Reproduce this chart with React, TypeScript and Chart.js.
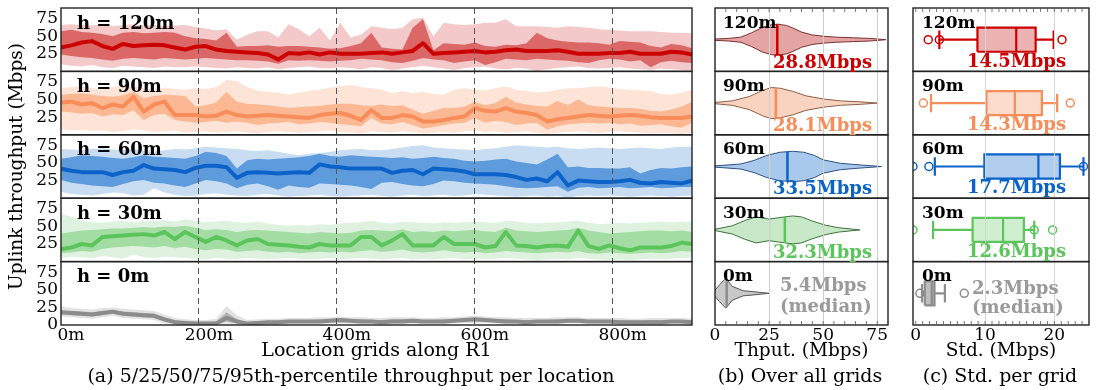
import React, { useEffect, useRef } from "react";
import { Chart, registerables } from "chart.js";

Chart.register(...registerables);

const FONT = "'DejaVu Serif', 'Liberation Serif', serif";

// ---------------- data ----------------
const heights = ["120m", "90m", "60m", "30m", "0m"];
const locations = [0, 15, 30, 45, 60, 75, 90, 105, 120, 135, 150, 165, 180, 195, 210, 225, 240, 255, 270, 285, 300, 315, 330, 345, 360, 375, 390, 405, 420, 435, 450, 465, 480, 495, 510, 525, 540, 555, 570, 585, 600, 615, 630, 645, 660, 675, 690, 705, 720, 735, 750, 765, 780, 795, 810, 825, 840, 855, 870, 885, 900, 915];
const locationTicks = [0, 200, 400, 600, 800];
const thputTicksRows = [25, 50, 75];
const thputTicksBottom = [0, 25, 50, 75];
const violinTicks = [0, 25, 50, 75];
const stdTicks = [0, 10, 20];

// h = 120m
const p05_h120 = [10, 8, 7, 9, 6, 5, 8, 7, 6, 5, 7, 6, 6, 7, 6, 5, 4, 6, 5, 4, 6, 3, 5, 6, 7, 5, 4, 6, 5, 3, 6, 5, 2, 4, 6, 8, 6, 4, 2, 5, 6, 7, 4, 3, 5, 4, 1, 3, 5, 6, 7, 5, 4, 5, 6, 4, 3, 2, 4, 3, 2, 1];
const p25_h120 = [24, 22, 20, 19, 17, 15, 18, 19, 18, 17, 19, 18, 17, 18, 19, 18, 17, 16, 16, 15, 14, 11, 16, 15, 16, 15, 14, 15, 16, 18, 17, 16, 13, 12, 15, 19, 17, 16, 12, 14, 16, 9, 13, 18, 17, 16, 18, 17, 16, 15, 13, 12, 16, 18, 17, 14, 16, 6, 13, 15, 13, 12];
const p50_h120 = [34, 37, 41, 43, 36, 32, 39, 36, 37, 38, 37, 34, 31, 35, 36, 31, 29, 28, 27, 26, 24, 17, 26, 25, 27, 24, 27, 25, 25, 25, 26, 27, 25, 27, 29, 40, 25, 26, 27, 28, 29, 27, 28, 30, 31, 29, 29, 29, 30, 28, 25, 25, 25, 26, 26, 28, 25, 25, 25, 28, 27, 24];
const p75_h120 = [57, 59, 56, 55, 53, 50, 55, 56, 54, 55, 56, 55, 50, 47, 46, 44, 55, 35, 36, 36, 37, 35, 36, 36, 35, 34, 32, 33, 36, 40, 55, 34, 32, 31, 62, 74, 30, 40, 39, 38, 41, 36, 35, 38, 37, 40, 55, 47, 44, 42, 41, 41, 40, 38, 43, 42, 41, 36, 34, 39, 37, 33];
const p95_h120 = [66, 67, 66, 65, 67, 64, 66, 67, 65, 66, 64, 65, 66, 63, 61, 58, 60, 45, 52, 57, 57, 48, 67, 60, 50, 62, 44, 69, 48, 52, 64, 62, 60, 62, 74, 76, 50, 69, 67, 66, 67, 69, 69, 74, 64, 64, 64, 63, 62, 64, 63, 62, 60, 59, 58, 57, 57, 57, 56, 55, 55, 54];

// h = 90m
const p05_h90 = [8, 6, 7, 5, 6, 4, 5, 8, 6, 4, 5, 6, 3, 4, 5, 3, 4, 5, 3, 2, 4, 5, 4, 3, 4, 5, 6, 4, 3, 2, 5, 4, 3, 5, 4, 2, 3, 4, 3, 5, 6, 4, 5, 3, 4, 5, 3, 1, 3, 4, 5, 4, 3, 4, 5, 4, 3, 2, 3, 2, 1, 3];
const p25_h90 = [33, 32, 30, 31, 26, 29, 28, 35, 21, 28, 30, 21, 19, 17, 18, 20, 17, 19, 17, 14, 16, 17, 18, 15, 16, 18, 17, 15, 14, 12, 24, 16, 15, 18, 14, 9, 11, 14, 16, 17, 24, 17, 20, 18, 14, 16, 17, 7, 12, 15, 16, 17, 16, 17, 15, 16, 13, 14, 15, 12, 10, 17];
const p50_h90 = [46, 47, 43, 45, 38, 43, 40, 54, 33, 43, 47, 28, 28, 28, 26, 27, 33, 28, 26, 27, 28, 27, 26, 25, 24, 28, 30, 31, 27, 21, 35, 24, 24, 28, 26, 19, 19, 21, 24, 26, 38, 34, 33, 38, 33, 31, 28, 19, 22, 24, 26, 28, 27, 26, 27, 28, 27, 25, 24, 24, 24, 26];
const p75_h90 = [57, 58, 59, 57, 55, 54, 56, 61, 52, 55, 57, 56, 55, 40, 42, 46, 61, 47, 44, 43, 42, 40, 38, 39, 40, 41, 43, 44, 44, 42, 41, 43, 41, 42, 36, 30, 34, 38, 38, 40, 47, 42, 45, 54, 46, 43, 41, 40, 48, 42, 50, 42, 40, 39, 38, 38, 37, 34, 33, 36, 40, 47];
const p95_h90 = [66, 68, 69, 66, 64, 68, 71, 69, 66, 64, 67, 65, 64, 66, 65, 68, 78, 76, 68, 63, 61, 60, 57, 60, 62, 64, 67, 69, 71, 68, 66, 64, 59, 62, 59, 61, 58, 57, 64, 66, 64, 63, 66, 69, 64, 62, 60, 61, 64, 66, 66, 68, 69, 67, 65, 64, 63, 62, 58, 57, 60, 64];

// h = 60m
const p05_h60 = [9, 6, 5, 4, 6, 8, 7, 4, 5, 14, 8, 5, 3, 4, 6, 7, 5, 4, 3, 5, 6, 4, 2, 3, 4, 5, 3, 2, 3, 4, 5, 3, 2, 4, 5, 3, 4, 5, 3, 4, 6, 5, 4, 3, 2, 3, 4, 2, 3, 1, 3, 4, 3, 4, 3, 2, 3, 4, 3, 2, 3, 4];
const p25_h60 = [26, 22, 20, 18, 17, 16, 20, 24, 26, 22, 21, 18, 16, 21, 26, 24, 21, 14, 19, 21, 17, 12, 18, 16, 15, 21, 20, 19, 18, 16, 13, 22, 23, 20, 18, 17, 20, 25, 24, 22, 21, 20, 19, 17, 15, 14, 15, 16, 17, 9, 15, 16, 14, 15, 16, 14, 15, 16, 14, 15, 16, 16];
const p50_h60 = [42, 39, 37, 37, 37, 33, 37, 39, 47, 42, 41, 40, 37, 43, 46, 46, 44, 29, 36, 37, 36, 35, 36, 37, 36, 48, 45, 44, 42, 42, 42, 42, 36, 39, 40, 34, 42, 41, 40, 38, 34, 34, 34, 33, 30, 26, 28, 24, 37, 18, 25, 24, 23, 23, 24, 26, 22, 21, 23, 22, 21, 25];
const p75_h60 = [56, 58, 61, 60, 59, 57, 56, 58, 61, 59, 58, 57, 56, 60, 66, 64, 60, 42, 54, 56, 55, 56, 57, 58, 60, 63, 60, 59, 61, 60, 59, 58, 57, 58, 56, 57, 59, 57, 56, 53, 52, 53, 55, 56, 52, 50, 48, 55, 63, 44, 45, 43, 43, 42, 42, 44, 35, 40, 43, 42, 44, 45];
const p95_h60 = [70, 69, 68, 70, 71, 69, 68, 70, 67, 66, 68, 70, 69, 71, 73, 72, 71, 70, 68, 67, 68, 66, 63, 61, 63, 64, 66, 68, 69, 70, 68, 68, 70, 72, 74, 75, 72, 71, 70, 69, 68, 70, 71, 73, 75, 74, 73, 72, 73, 71, 70, 71, 72, 71, 70, 71, 72, 71, 70, 72, 73, 73];

// h = 30m
const p05_h30 = [5, 7, 6, 5, 8, 6, 4, 10, 6, 5, 7, 6, 5, 4, 3, 5, 4, 3, 5, 4, 3, 4, 5, 4, 3, 4, 5, 3, 4, 5, 4, 3, 4, 5, 3, 4, 3, 4, 5, 3, 4, 3, 4, 5, 4, 3, 2, 3, 4, 3, 5, 4, 3, 2, 3, 2, 3, 4, 3, 4, 5, 4];
const p25_h30 = [12, 13, 15, 14, 18, 20, 21, 22, 21, 20, 22, 19, 21, 18, 16, 18, 17, 14, 15, 16, 14, 13, 14, 12, 13, 14, 13, 14, 13, 15, 16, 14, 15, 17, 14, 13, 14, 16, 14, 13, 14, 12, 13, 15, 14, 13, 12, 13, 14, 13, 15, 12, 11, 13, 12, 11, 12, 13, 12, 13, 15, 14];
const p50_h30 = [18, 20, 25, 23, 35, 36, 37, 38, 39, 37, 42, 32, 42, 35, 28, 35, 30, 23, 30, 32, 25, 24, 23, 21, 20, 25, 23, 23, 23, 35, 35, 23, 30, 39, 23, 23, 23, 35, 25, 25, 25, 20, 22, 42, 23, 22, 20, 22, 23, 21, 44, 22, 18, 23, 19, 16, 20, 20, 20, 22, 27, 25];
const p75_h30 = [40, 42, 44, 45, 46, 47, 47, 48, 49, 48, 50, 49, 51, 48, 45, 46, 45, 42, 44, 45, 44, 43, 42, 41, 40, 42, 41, 40, 41, 44, 45, 44, 43, 46, 42, 43, 42, 44, 43, 44, 45, 43, 42, 48, 44, 43, 42, 43, 44, 45, 48, 44, 42, 40, 41, 42, 43, 44, 44, 43, 44, 42];
const p95_h30 = [68, 64, 58, 56, 55, 57, 58, 56, 57, 58, 59, 57, 60, 58, 56, 57, 58, 56, 55, 57, 54, 52, 51, 52, 51, 53, 52, 54, 55, 56, 58, 55, 54, 57, 56, 55, 54, 56, 55, 56, 57, 56, 55, 58, 57, 55, 54, 55, 56, 57, 58, 55, 53, 54, 55, 54, 55, 56, 57, 56, 57, 56];

// h = 0m
const p05_h0 = [12, 11, 10, 9, 11, 13, 10, 9, 8, 7, 2, 0, 0, 0, 0, 0, 2, 0, 0, 0, 0, 0, 1, 1, 1, 1, 2, 2, 2, 1, 1, 0, 1, 1, 2, 1, 1, 1, 2, 3, 3, 3, 2, 1, 1, 0, 1, 1, 1, 2, 2, 1, 1, 1, 0, 0, 0, 0, 0, 1, 1, 0];
const p25_h0 = [15, 14, 13, 12, 14, 16, 13, 12, 11, 10, 5, 2, 1, 1, 0, 1, 5, 2, 1, 1, 2, 2, 3, 3, 3, 3, 4, 4, 4, 3, 3, 2, 3, 3, 4, 3, 3, 3, 4, 5, 5, 5, 4, 3, 3, 2, 3, 3, 3, 4, 4, 3, 3, 3, 2, 2, 2, 2, 2, 3, 3, 2];
const p50_h0 = [18, 17, 16, 15, 17, 19, 16, 15, 14, 13, 8, 4, 3, 2, 2, 2, 10, 5, 2, 3, 4, 4, 5, 5, 5, 5, 6, 7, 6, 5, 5, 4, 5, 5, 6, 5, 5, 5, 6, 7, 8, 7, 6, 5, 5, 4, 5, 5, 5, 6, 6, 5, 5, 5, 4, 4, 4, 4, 4, 5, 5, 4];
const p75_h0 = [21, 20, 19, 18, 20, 21, 19, 18, 17, 16, 11, 7, 5, 4, 4, 5, 18, 8, 4, 5, 6, 6, 7, 7, 7, 8, 8, 9, 8, 8, 7, 7, 8, 8, 8, 7, 7, 8, 8, 9, 10, 9, 8, 8, 7, 7, 7, 7, 8, 8, 8, 7, 7, 7, 7, 6, 6, 7, 7, 7, 7, 6];
const p95_h0 = [26, 24, 23, 22, 24, 25, 23, 22, 21, 20, 15, 10, 8, 7, 7, 9, 27, 14, 7, 8, 9, 9, 10, 10, 10, 11, 11, 12, 11, 11, 10, 10, 11, 11, 11, 10, 10, 11, 11, 12, 13, 12, 11, 11, 10, 10, 10, 10, 11, 11, 11, 10, 10, 10, 10, 9, 9, 10, 10, 10, 10, 9];

// (b) violin outlines: throughput value -> half width (fraction of half a row)
const violinX_h120 = [0, 6, 12, 17, 22, 26, 29, 33, 36, 40, 45, 50, 56, 64, 72, 79];
const violinW_h120 = [0.02, 0.04, 0.08, 0.22, 0.39, 0.47, 0.49, 0.45, 0.37, 0.24, 0.15, 0.11, 0.08, 0.06, 0.04, 0];
const violinX_h90 = [0, 8, 16, 22, 26, 30, 36, 42, 50, 58, 67, 75];
const violinW_h90 = [0.02, 0.07, 0.21, 0.4, 0.49, 0.47, 0.37, 0.23, 0.13, 0.07, 0.04, 0];
const violinX_h60 = [0, 12, 18, 24, 30, 36, 41, 46, 50, 58, 67, 77];
const violinW_h60 = [0.02, 0.08, 0.19, 0.35, 0.45, 0.48, 0.45, 0.35, 0.21, 0.1, 0.05, 0];
const violinX_h30 = [0, 8, 14, 19, 25, 30, 36, 40, 45, 51, 57, 67];
const violinW_h30 = [0.02, 0.13, 0.3, 0.41, 0.34, 0.39, 0.44, 0.41, 0.28, 0.15, 0.07, 0];
const violinX_h0 = [0, 2, 5, 8, 13, 18, 25];
const violinW_h0 = [0.1, 0.26, 0.47, 0.22, 0.08, 0.05, 0];
const thputMedian = [28.8, 28.1, 33.5, 32.3, 5.4];

// (c) std per grid box plots
const stdQ1 = [8.9, 10.2, 9.9, 8.2, 1.3];
const stdMedian = [14.5, 14.3, 17.7, 12.6, 2.3];
const stdQ3 = [17.3, 18.2, 20.8, 15.6, 2.7];
const stdWhiskerLow = [3.4, 2.2, 2.75, 2.5, 0.9];
const stdWhiskerHigh = [19.9, 20.4, 24.2, 17.1, 4.2];
const stdOutliers_h120 = [1.8, 3.4, 21.1];
const stdOutliers_h90 = [1.1, 22.3];
const stdOutliers_h60 = [-0.4, 1.9, 24.2];
const stdOutliers_h30 = [-0.4, 17.1, 19.75];
const stdOutliers_h0 = [0.6, 7.0];

// ---------------- styles ----------------
const lineColors = ["#CC0000", "#F98D5A", "#0B63C9", "#5BC55B", "#8C8C8C"];
const darkBand = ["#DC6767", "#FBB893", "#5E9BDC", "#A4DDA4", "#B4B4B4"];
const lightBand = ["#F3C9C9", "#FDE4D6", "#C9DDF2", "#DFF2DF", "#E2E2E2"];
const violinFill = ["#E5A4A4", "#F9D3BF", "#A9C9EC", "#C7E9C7", "#C8C8C8"];
const violinEdge = ["#7B3131", "#8E5E47", "#2F5283", "#3F723F", "#555555"];
const boxFill = ["#EDB3B3", "#FCDCCA", "#B2CEEE", "#D0EFD0", "#BEBEBE"];
const textColors = ["#CC0000", "#F98D5A", "#0B63C9", "#5BC55B", "#9A9A9A"];

const P05 = [p05_h120, p05_h90, p05_h60, p05_h30, p05_h0];
const P25 = [p25_h120, p25_h90, p25_h60, p25_h30, p25_h0];
const P50 = [p50_h120, p50_h90, p50_h60, p50_h30, p50_h0];
const P75 = [p75_h120, p75_h90, p75_h60, p75_h30, p75_h0];
const P95 = [p95_h120, p95_h90, p95_h60, p95_h30, p95_h0];
const VX = [violinX_h120, violinX_h90, violinX_h60, violinX_h30, violinX_h0];
const VW = [violinW_h120, violinW_h90, violinW_h60, violinW_h30, violinW_h0];
const OUT = [stdOutliers_h120, stdOutliers_h90, stdOutliers_h60, stdOutliers_h30, stdOutliers_h0];

const rowIds = ["r0", "r1", "r2", "r3", "r4"];

function pts(xs: number[], ys: number[]) {
  return xs.map((x, i) => ({ x, y: ys[i] }));
}
function widthAt(xs: number[], ws: number[], v: number) {
  for (let i = 1; i < xs.length; i++) {
    if (v <= xs[i]) {
      const t = (v - xs[i - 1]) / (xs[i] - xs[i - 1]);
      return ws[i - 1] + t * (ws[i] - ws[i - 1]);
    }
  }
  return 0;
}
function tickList(vals: number[]) {
  return (s: any) => {
    s.ticks = vals.map((v) => ({ value: v }));
  };
}
function fixX(s: any) {
  s.height = 38;
  s.paddingLeft = 0;
  s.paddingRight = 0;
}
function yScales(make: (r: number) => any) {
  const out: any = {};
  for (let r = 4; r >= 0; r--) {
    out["r" + r] = {
      type: "linear",
      position: "left",
      stack: "rows",
      stackWeight: 1,
      offset: false,
      grid: { display: false, drawTicks: false },
      border: { display: false },
      ...make(r),
    };
  }
  return out;
}
function drawFrames(chart: any) {
  const { ctx, chartArea: a } = chart;
  ctx.save();
  ctx.strokeStyle = "#222";
  ctx.lineWidth = 1.4;
  rowIds.forEach((id) => {
    const s = chart.scales[id];
    ctx.strokeRect(a.left, s.top, a.right - a.left, s.bottom - s.top);
  });
  ctx.restore();
}
function drawMinorTicks(chart: any, step: number, from: number, to: number) {
  const { ctx, chartArea: a } = chart;
  const xs = chart.scales.x;
  ctx.save();
  ctx.strokeStyle = "#555";
  ctx.lineWidth = 0.8;
  for (let v = from; v <= to + 1e-9; v += step) {
    const px = xs.getPixelForValue(v);
    if (px < a.left + 1 || px > a.right - 1) continue;
    ctx.beginPath();
    ctx.moveTo(px, a.top);
    ctx.lineTo(px, a.top + 4);
    ctx.moveTo(px, a.bottom);
    ctx.lineTo(px, a.bottom - 4);
    ctx.stroke();
  }
  ctx.restore();
}

const common = {
  type: "line",
  options: {
    responsive: false,
    maintainAspectRatio: false,
    animation: false,
    events: [],
    plugins: { legend: { display: false }, tooltip: { enabled: false } },
    elements: { point: { radius: 0, hoverRadius: 0 }, line: { tension: 0 } },
  },
};

const TITLE_FONT = { family: FONT, size: 18.5 };
const TICK_FONT = { family: FONT, size: 17 };

function configA() {
  const datasets: any[] = [];
  for (let r = 0; r < 5; r++) {
    const base = { yAxisID: rowIds[r], pointRadius: 0, borderColor: "rgba(0,0,0,0)", borderWidth: 0 };
    datasets.push({ ...base, data: pts(locations, P05[r]), fill: false, order: 3 });
    datasets.push({ ...base, data: pts(locations, P95[r]), fill: "-1", backgroundColor: lightBand[r], order: 3 });
    datasets.push({ ...base, data: pts(locations, P25[r]), fill: false, order: 2 });
    datasets.push({ ...base, data: pts(locations, P75[r]), fill: "-1", backgroundColor: darkBand[r], order: 2 });
    datasets.push({ ...base, data: pts(locations, P50[r]), fill: false, borderColor: lineColors[r], borderWidth: 4, borderJoinStyle: "round", order: 1 });
  }
  const overlay = {
    id: "overlayA",
    afterDraw(chart: any) {
      const { ctx, chartArea: a } = chart;
      drawFrames(chart);
      ctx.save();
      ctx.font = `bold 18px ${FONT}`;
      ctx.fillStyle = "#000";
      ctx.textAlign = "left";
      ctx.textBaseline = "alphabetic";
      rowIds.forEach((id, r) => {
        const s = chart.scales[id];
        ctx.fillText("h = " + heights[r], a.left + 16, s.top + 20.5);
      });
      ctx.restore();
    },
  };
  return {
    ...common,
    data: { datasets },
    plugins: [overlay],
    options: {
      ...common.options,
      layout: { padding: { left: 0, right: 8, top: 8, bottom: 27 } },
      scales: {
        x: {
          type: "linear",
          min: 0,
          max: 915,
          afterBuildTicks: tickList(locationTicks),
          afterFit: fixX,
          ticks: { callback: (v: any) => v + "m", font: TICK_FONT, color: "#000", labelOffset: 10, padding: 0, maxRotation: 0, autoSkip: false },
          grid: { z: 1, color: (c: any) => (c.tick && c.tick.value === 0 ? "rgba(0,0,0,0)" : "#555"), lineWidth: 1, drawTicks: false },
          border: { display: false, dash: [6, 4] },
          title: { display: true, text: "Location grids along R1", font: { family: FONT, size: 19 }, color: "#000", padding: { top: 0, bottom: 1 } },
        },
        ...yScales((r) => ({
          min: 0,
          max: 90,
          afterBuildTicks: tickList(r === 4 ? thputTicksBottom : thputTicksRows),
          afterFit: (s: any) => {
            s.width = 61;
            s.paddingTop = 0;
            s.paddingBottom = 0;
          },
          ticks: { font: TICK_FONT, color: "#000", padding: 3, autoSkip: false },
          title: { display: r === 2, text: "Uplink throughput (Mbps)", font: TITLE_FONT, color: "#000", padding: { top: 6, bottom: 0 } },
        })),
      },
    },
  };
}

function hiddenY(r: number) {
  return {
    min: -1,
    max: 1,
    ticks: { display: false },
    afterFit: (s: any) => {
      s.width = 0;
      s.paddingTop = 0;
      s.paddingBottom = 0;
    },
  };
}

function configB() {
  const datasets: any[] = [];
  for (let r = 0; r < 5; r++) {
    const y = rowIds[r];
    datasets.push({ yAxisID: y, data: pts(VX[r], VW[r].map((w) => -w)), borderColor: violinEdge[r], borderWidth: 1, fill: false, order: 2 });
    datasets.push({ yAxisID: y, data: pts(VX[r], VW[r]), borderColor: violinEdge[r], borderWidth: 1, fill: "-1", backgroundColor: violinFill[r], order: 2 });
    const wm = widthAt(VX[r], VW[r], thputMedian[r]);
    datasets.push({ yAxisID: y, data: [{ x: thputMedian[r], y: -wm }, { x: thputMedian[r], y: wm }], borderColor: lineColors[r], borderWidth: 2.5, fill: false, order: 1 });
  }
  const overlay = {
    id: "overlayB",
    afterDraw(chart: any) {
      const { ctx, chartArea: a } = chart;
      drawFrames(chart);
      drawMinorTicks(chart, 5, 0, 80);
      ctx.save();
      ctx.textAlign = "left";
      ctx.textBaseline = "alphabetic";
      rowIds.forEach((id, r) => {
        const s = chart.scales[id];
        ctx.font = `bold 17px ${FONT}`;
        ctx.fillStyle = "#000";
        ctx.fillText(heights[r], a.left + 8, s.top + 19.5);
        ctx.font = `bold 18px ${FONT}`;
        ctx.fillStyle = textColors[r];
        const label = thputMedian[r].toFixed(1) + "Mbps";
        if (r < 4) {
          ctx.fillText(label, a.left + 58, s.top + 59.5);
        } else {
          ctx.fillText(label, a.left + 65, s.top + 29);
          ctx.fillText("(median)", a.left + 65, s.top + 50);
        }
      });
      ctx.restore();
    },
  };
  return {
    ...common,
    data: { datasets },
    plugins: [overlay],
    options: {
      ...common.options,
      layout: { padding: { left: 15, right: 12, top: 8, bottom: 27 } },
      scales: {
        x: {
          type: "linear",
          min: 0,
          max: 80,
          afterBuildTicks: tickList(violinTicks),
          afterFit: fixX,
          ticks: { font: TICK_FONT, color: "#000", padding: 0, maxRotation: 0, autoSkip: false },
          grid: { z: 1, color: (c: any) => (c.tick && c.tick.value === 0 ? "rgba(0,0,0,0)" : "#CFCFCF"), lineWidth: 1, drawTicks: false },
          border: { display: false },
          title: { display: true, text: "Thput. (Mbps)", font: TITLE_FONT, color: "#000", padding: { top: 0, bottom: 1 } },
        },
        ...yScales(hiddenY),
      },
    },
  };
}

function configC() {
  const datasets: any[] = [];
  const h = 0.38;
  const c = 0.29;
  for (let r = 0; r < 5; r++) {
    const y = rowIds[r];
    const col = lineColors[r];
    const q1 = stdQ1[r], q3 = stdQ3[r], med = stdMedian[r], wl = stdWhiskerLow[r], wh = stdWhiskerHigh[r];
    const ln = { yAxisID: y, borderColor: col, borderWidth: 2.2, fill: false, order: 1, borderJoinStyle: "miter" };
    datasets.push({ yAxisID: y, data: [{ x: q1, y: -h }, { x: q3, y: -h }], borderColor: "rgba(0,0,0,0)", borderWidth: 0, fill: false, order: 3 });
    datasets.push({ yAxisID: y, data: [{ x: q1, y: h }, { x: q3, y: h }], borderColor: "rgba(0,0,0,0)", borderWidth: 0, fill: "-1", backgroundColor: boxFill[r], order: 3 });
    datasets.push({ ...ln, data: [{ x: q1, y: -h }, { x: q3, y: -h }, { x: q3, y: h }, { x: q1, y: h }, { x: q1, y: -h }] });
    datasets.push({ ...ln, data: [{ x: med, y: -h }, { x: med, y: h }] });
    datasets.push({ ...ln, data: [{ x: wl, y: 0 }, { x: q1, y: 0 }] });
    datasets.push({ ...ln, data: [{ x: q3, y: 0 }, { x: wh, y: 0 }] });
    datasets.push({ ...ln, data: [{ x: wl, y: -c }, { x: wl, y: c }] });
    datasets.push({ ...ln, data: [{ x: wh, y: -c }, { x: wh, y: c }] });
    datasets.push({
      yAxisID: y,
      data: OUT[r].map((v) => ({ x: v, y: 0 })),
      showLine: false,
      pointRadius: 4,
      pointStyle: "circle",
      pointBorderColor: col,
      pointBackgroundColor: "rgba(0,0,0,0)",
      pointBorderWidth: 1.5,
      order: 0,
    });
  }
  const overlay = {
    id: "overlayC",
    afterDraw(chart: any) {
      const { ctx, chartArea: a } = chart;
      drawFrames(chart);
      drawMinorTicks(chart, 1, 0, 25);
      ctx.save();
      ctx.textAlign = "left";
      ctx.textBaseline = "alphabetic";
      rowIds.forEach((id, r) => {
        const s = chart.scales[id];
        ctx.font = `bold 17px ${FONT}`;
        ctx.fillStyle = "#000";
        ctx.fillText(heights[r], a.left + 9, s.top + 19.5);
        ctx.font = `bold 18px ${FONT}`;
        ctx.fillStyle = textColors[r];
        const label = stdMedian[r].toFixed(1) + "Mbps";
        if (r < 4) {
          ctx.fillText(label, a.left + 54, s.top + 58.5);
        } else {
          ctx.fillText(label, a.left + 59, s.top + 32);
          ctx.fillText("(median)", a.left + 59, s.top + 51);
        }
      });
      ctx.restore();
    },
  };
  return {
    ...common,
    data: { datasets },
    plugins: [overlay],
    options: {
      ...common.options,
      layout: { padding: { left: 13, right: 11, top: 8, bottom: 27 } },
      scales: {
        x: {
          type: "linear",
          min: -0.4,
          max: 25,
          afterBuildTicks: tickList(stdTicks),
          afterFit: fixX,
          ticks: { font: TICK_FONT, color: "#000", padding: 0, maxRotation: 0, autoSkip: false },
          grid: { z: 1, color: (c: any) => (c.tick && c.tick.value === 0 ? "rgba(0,0,0,0)" : "#D5D5D5"), lineWidth: 1, drawTicks: false },
          border: { display: false },
          title: { display: true, text: "Std. (Mbps)", font: TITLE_FONT, color: "#000", padding: { top: 0, bottom: 1 } },
        },
        ...yScales(hiddenY),
      },
    },
  };
}

export default function App() {
  const refA = useRef<HTMLCanvasElement>(null);
  const refB = useRef<HTMLCanvasElement>(null);
  const refC = useRef<HTMLCanvasElement>(null);
  useEffect(() => {
    const charts = [
      new Chart(refA.current as any, configA() as any),
      new Chart(refB.current as any, configB() as any),
      new Chart(refC.current as any, configC() as any),
    ];
    return () => charts.forEach((c) => c.destroy());
  }, []);
  const cap: any = { position: "absolute", top: 363, fontFamily: FONT, fontSize: 19, color: "#000", textAlign: "center", whiteSpace: "nowrap", lineHeight: "24px" };
  return (
    <div style={{ position: "absolute", left: 0, top: 0, width: 1100, height: 390, background: "#fff", overflow: "hidden" }}>
      <canvas ref={refA} width={700} height={390} style={{ position: "absolute", left: 0, top: 0 }} />
      <canvas ref={refB} width={200} height={390} style={{ position: "absolute", left: 700, top: 0 }} />
      <canvas ref={refC} width={200} height={390} style={{ position: "absolute", left: 900, top: 0 }} />
      <div style={{ ...cap, left: 51, width: 600 }}>(a) 5/25/50/75/95th-percentile throughput per location</div>
      <div style={{ ...cap, left: 700, width: 200 }}>(b) Over all grids</div>
      <div style={{ ...cap, left: 900, width: 200 }}>(c) Std. per grid</div>
    </div>
  );
}
